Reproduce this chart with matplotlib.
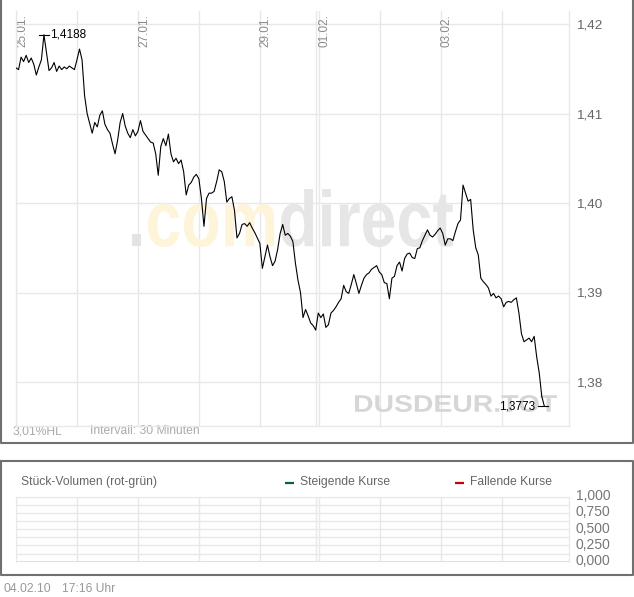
import numpy as np
import matplotlib
matplotlib.use("Agg")
import matplotlib.pyplot as plt
from matplotlib.textpath import TextPath, TextToPath
from matplotlib.patches import PathPatch
from matplotlib.font_manager import FontProperties
from matplotlib.transforms import Affine2D, ScaledTranslation

plt.rcParams['font.family'] = ['Liberation Sans', 'DejaVu Sans']

# ---------------- data ----------------
prices = [
    1.4151, 1.4149, 1.4163, 1.4158, 1.4165, 1.4157, 1.4162, 1.4155, 1.4143, 1.4152,
    1.4160, 1.4188, 1.4168, 1.4148, 1.4151, 1.4157, 1.4147, 1.4153, 1.4149, 1.4152,
    1.4150, 1.4153, 1.4151, 1.4149, 1.4160, 1.4172, 1.4160, 1.4120, 1.4100, 1.4089,
    1.4078, 1.4090, 1.4085, 1.4098, 1.4103, 1.4088, 1.4082, 1.4078, 1.4066, 1.4055,
    1.4070, 1.4090, 1.4100, 1.4086, 1.4078, 1.4073, 1.4082, 1.4075, 1.4080, 1.4092,
    1.4080, 1.4076, 1.4072, 1.4068, 1.4067, 1.4055, 1.4031, 1.4063, 1.4072, 1.4064,
    1.4077, 1.4055, 1.4046, 1.4050, 1.4044, 1.4048, 1.4035, 1.4009, 1.4020, 1.4023,
    1.4029, 1.4032, 1.4027, 1.4005, 1.3974, 1.4005, 1.4011, 1.4011, 1.4013, 1.4024,
    1.4037, 1.4035, 1.4024, 1.4001, 1.4005, 1.4007, 1.3992, 1.3961, 1.3966, 1.3976,
    1.3977, 1.3974, 1.3978, 1.3972, 1.3967, 1.3961, 1.3955, 1.3927, 1.3940, 1.3953,
    1.3940, 1.3930, 1.3935, 1.3948, 1.3966, 1.3976, 1.3964, 1.3966, 1.3963, 1.3957,
    1.3933, 1.3914, 1.3900, 1.3872, 1.3881, 1.3874, 1.3866, 1.3863, 1.3858, 1.3877,
    1.3872, 1.3876, 1.3861, 1.3864, 1.3877, 1.3880, 1.3884, 1.3889, 1.3893, 1.3908,
    1.3901, 1.3899, 1.3909, 1.3920, 1.3910, 1.3899, 1.3908, 1.3916, 1.3920, 1.3922,
    1.3926, 1.3928, 1.3930, 1.3923, 1.3920, 1.3911, 1.3910, 1.3893, 1.3916, 1.3918,
    1.3930, 1.3934, 1.3924, 1.3938, 1.3943, 1.3944, 1.3939, 1.3938, 1.3949, 1.3950,
    1.3958, 1.3964, 1.3970, 1.3964, 1.3962, 1.3965, 1.3969, 1.3972, 1.3966, 1.3953,
    1.3960, 1.3960, 1.3958, 1.3968, 1.3977, 1.3981, 1.4020, 1.4011, 1.4002, 1.4004,
    1.3970, 1.3950, 1.3942, 1.3916, 1.3912, 1.3909, 1.3905, 1.3896, 1.3899, 1.3894,
    1.3896, 1.3893, 1.3884, 1.3889, 1.3890, 1.3889, 1.3892, 1.3894, 1.3877, 1.3854,
    1.3845, 1.3847, 1.3849, 1.3845, 1.3851, 1.3828, 1.3810, 1.3784, 1.3773,
]
hours = np.arange(len(prices))          # trading hours index
day_lines = [0, 24, 48, 72, 96, 118, 119.2, 143.2, 167.2, 191.2]
date_labels = ['25.01.', '27.01.', '29.01.', '01.02.', '03.02.']
date_label_pos = [0, 48, 96, 119.2, 167.2]
price_ticks = [1.38, 1.39, 1.40, 1.41, 1.42]
vol_ticks = [0.0, 0.25, 0.5, 0.75, 1.0]
vol_minor = [0.125, 0.375, 0.625, 0.875]
max_label = '1,4188'
min_label = '1,3773'

# ---------------- figure ----------------
W, H = 634, 597
fig = plt.figure(figsize=(W / 100, H / 100), dpi=100, facecolor='white')

bg = fig.add_axes([0, 0, 1, 1], zorder=0)
bg.set_xlim(0, W)
bg.set_ylim(H, 0)
bg.axis('off')

frame_c = '#707070'
bg.plot([1, 1, 633, 633], [0, 443, 443, 0], color=frame_c, lw=1.5, solid_capstyle='butt')
bg.plot([1, 633, 633, 1, 1], [461, 461, 575, 575, 461], color=frame_c, lw=1.5)

grid_c = '#e8e8e8'
PX_PER_H = 2.54
xmax = 553 / PX_PER_H

def fx(px):
    return px / W

def fy(py):
    return 1 - py / H

# ---------------- main price axes ----------------
ax = fig.add_axes([fx(16), fy(426), 553 / W, 415 / H], zorder=1)
ax.set_facecolor('none')
y_lo = 1.38 - (426 - 382) / 8950
y_hi = 1.42 + (24 - 11) / 8950
for d in day_lines:
    ax.axvline(d, color=grid_c, lw=1, zorder=0.5)
for p in price_ticks:
    ax.axhline(p, color=grid_c, lw=1, zorder=0.5)
for s in ['left', 'bottom', 'right']:
    ax.spines[s].set_color(grid_c)
    ax.spines[s].set_linewidth(1)
ax.spines['top'].set_visible(False)
ax.set_xticks([])
ax.yaxis.tick_right()
ax.set_yticks(price_ticks)
ax.set_yticklabels([f'{p:.2f}'.replace('.', ',') for p in price_ticks])
ax.tick_params(axis='y', length=0, pad=5, labelsize=9.7, labelcolor='#666666')

ax.plot(hours, prices, color='black', lw=0.8, zorder=3)

imax = int(np.argmax(prices))
ax.plot([hours[imax] - 2, hours[imax] + 2], [prices[imax]] * 2, color='black', lw=0.8, zorder=3)
ax.text(hours[imax] + 2.4, prices[imax], max_label, ha='left', va='center',
        fontsize=8.5, color='black', zorder=4)
imin = len(prices) - 1
ax.plot([hours[imin] - 2.6, hours[imin] + 1.6], [prices[imin]] * 2, color='black', lw=0.8, zorder=3)
ax.text(hours[imin] - 3.6, prices[imin], min_label, ha='right', va='center',
        fontsize=8.5, color='black', zorder=4)

for pos, lab in zip(date_label_pos, date_labels):
    ax.text(pos + 2.4, 1 - 3 / 415, lab, rotation=90, ha='center', va='top',
            fontsize=8.5, color='#8a8a8a', transform=ax.get_xaxis_transform(), zorder=2)

ax.set_xlim(0, xmax)
ax.set_ylim(y_lo, y_hi)

# ---------------- watermarks ----------------
def fit_text(target_ax, parts, colors, box, weight, zorder, family='Liberation Sans'):
    x0, x1, ytop, ybase = box
    fp = FontProperties(family=family, weight=weight, size=100)
    t2p = TextToPath()
    paths = []
    off = 0.0
    for s in parts:
        paths.append(TextPath((off, 0), s, prop=fp))
        off += t2p.get_text_width_height_descent(s, fp, ismath=False)[0]
    ext = [p.get_extents() for p in paths]
    bx0 = min(e.x0 for e in ext); bx1 = max(e.x1 for e in ext)
    by0 = min(e.y0 for e in ext); by1 = max(e.y1 for e in ext)
    sx = (x1 - x0) / (bx1 - bx0)
    sy = (ybase - ytop) / (by1 - by0)
    tr = (Affine2D().translate(-bx0, -by0).scale(sx / W, sy / H)
          .translate(x0 / W, (H - ybase) / H) + fig.transFigure)
    for p, c in zip(paths, colors):
        patch = PathPatch(p, transform=tr, facecolor=c, edgecolor='none',
                          zorder=zorder, clip_on=False)
        target_ax.add_artist(patch)

fit_text(ax, ['.', 'com', 'direct'], ['#e3e3e3', '#fdf4da', '#e6e6e6'],
         (132, 453, 189, 247), 'bold', 1)
fit_text(ax, ['DUSDEUR.TOT'], ['#d6d6d6'], (355, 557, 395, 412), 'bold', 1)

# ---------------- volume axes ----------------
ax2 = fig.add_axes([fx(16), fy(561.7), 553 / W, 65 / H], zorder=1)
ax2.set_facecolor('none')
for d in day_lines:
    ax2.axvline(d, color=grid_c, lw=1, zorder=0.5)
for v in vol_ticks + vol_minor:
    ax2.axhline(v, color=grid_c, lw=1, zorder=0.5)
ax2.axhline(0, color='#e0e0e0', lw=2.2, zorder=0.6)
for s in ['left', 'top', 'right']:
    ax2.spines[s].set_color(grid_c)
ax2.spines['bottom'].set_visible(False)
ax2.set_xticks([])
ax2.yaxis.tick_right()
ax2.set_yticks(vol_ticks)
ax2.set_yticklabels([f'{v:.3f}'.replace('.', ',') for v in vol_ticks])
ax2.tick_params(axis='y', length=0, pad=5, labelsize=10, labelcolor='#777777')
for lbl in ax2.get_yticklabels():
    lbl.set_transform(lbl.get_transform() + ScaledTranslation(0, 0.02, fig.dpi_scale_trans))
ax2.set_xlim(0, xmax)
ax2.set_ylim(0, 1)

# ---------------- texts ----------------
bg.text(13, 431.5, '3,01%HL', fontsize=8.7, color='#aaaaaa', va='center', ha='left')
bg.text(90, 431.5, 'Intervall: 30 Minuten', fontsize=8.7, color='#aaaaaa', va='center', ha='left')

bg.text(21, 482, 'Stück-Volumen (rot-grün)', fontsize=8.7, color='#666666', va='center', ha='left')
bg.plot([285, 294], [483, 483], color='#006633', lw=1.6, solid_capstyle='butt')
bg.text(300, 482, 'Steigende Kurse', fontsize=8.7, color='#666666', va='center', ha='left')
bg.plot([455, 464], [483, 483], color='#cc0000', lw=1.6, solid_capstyle='butt')
bg.text(470, 482, 'Fallende Kurse', fontsize=8.7, color='#666666', va='center', ha='left')

bg.text(3, 589, '04.02.10', fontsize=8.7, color='#999999', va='center', ha='left')
bg.text(62, 589, '17:16 Uhr', fontsize=8.7, color='#999999', va='center', ha='left')

fig.savefig('out.png', dpi=100, facecolor='white')
